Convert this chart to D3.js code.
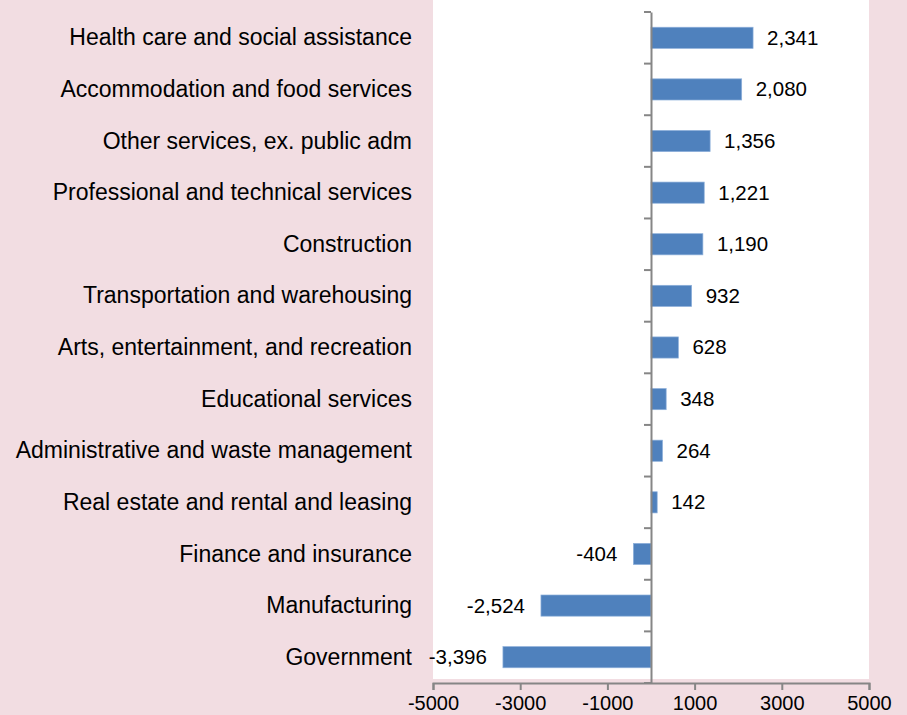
<!DOCTYPE html>
<html>
<head>
<meta charset="utf-8">
<script src="https://cdn.jsdelivr.net/npm/d3@7"></script>
<style>
  body { margin: 0; background: #f2dde2; overflow: hidden; }
  text { font-family: "Liberation Sans", Arial, sans-serif; fill: #000; }
</style>
</head>
<body>
<div id="chart"></div>
<script>
// change in jobs by industry
const categories = ["Health care and social assistance", "Accommodation and food services",
  "Other services, ex. public adm", "Professional and technical services", "Construction",
  "Transportation and warehousing", "Arts, entertainment, and recreation", "Educational services",
  "Administrative and waste management", "Real estate and rental and leasing",
  "Finance and insurance", "Manufacturing", "Government"];
const values = [2341, 2080, 1356, 1221, 1190, 932, 628, 348, 264, 142, -404, -2524, -3396];
const xTicks = [-5000, -3000, -1000, 1000, 3000, 5000];

const width = 907, height = 715,
      margin = ({top: 12, right: 38, bottom: 32, left: 433}); // plot box

const svg = d3.select("#chart")
    .append("svg")
    .attr("width", width)
    .attr("height", height)
    .style("display", "block");

let x = d3.scaleLinear()
    .domain([-5000, 5000])
    .range([margin.left, width - margin.right]);

let y = d3.scaleBand()
    .domain(categories)
    .range([margin.top, height - margin.bottom])
    .paddingInner(0.59)
    .paddingOuter(0.295);

// white plot area
svg.append("rect")
    .attr("x", margin.left)
    .attr("y", 0)
    .attr("width", x(5000) - x(-5000))
    .attr("height", height - margin.bottom - 4)
    .attr("fill", "#fff");

// bars
svg.selectAll(".bar")
    .data(values)
    .join("rect")
    .attr("class", "bar")
    .attr("x", d => x(Math.min(0, d)))
    .attr("y", (d, i) => y(categories[i]))
    .attr("width", d => Math.abs(x(d) - x(0)))
    .attr("height", y.bandwidth())
    .attr("fill", "#4f81bd")
    .attr("stroke", "#8eb0da")
    .attr("stroke-width", 0.7);

// value labels, plain hyphen for minus like the original
const fmt = d3.formatLocale({decimal: ".", thousands: ",", grouping: [3], currency: ["", ""], minus: "-"}).format(",");
svg.selectAll(".val")
    .data(values)
    .join("text")
    .attr("class", "val")
    .attr("x", d => d >= 0 ? x(d) + 14 : x(d) - 16)
    .attr("y", (d, i) => y(categories[i]) + y.bandwidth() / 2)
    .attr("dy", "0.34em")
    .attr("text-anchor", d => d >= 0 ? "start" : "end")
    .style("font-size", "20.5px")
    .text(d => fmt(d));

// x axis at the bottom
const xAxis = g => g
    .attr("transform", `translate(0, ${height - margin.bottom})`)
    .call(d3.axisBottom(x).tickValues(xTicks).tickFormat(d => String(d))
        .tickSize(7).tickSizeOuter(7).tickPadding(6))
    .call(g => g.selectAll("path, line").attr("stroke", "#868686").attr("stroke-width", 2))
    .call(g => g.selectAll("text").style("font-size", "20px").attr("font-family", null));

// y axis on the zero line
const yAxis = g => g
    .attr("transform", `translate(${x(0)}, 0)`)
    .call(d3.axisLeft(y).tickValues([]).tickSize(0).tickSizeOuter(0))
    .call(g => g.selectAll("path").attr("stroke", "#868686").attr("stroke-width", 2));

svg.append("g").call(xAxis);
svg.append("g").call(yAxis);

// category separators on the zero line
const step = y.step();
svg.append("g")
    .selectAll("line")
    .data(d3.range(categories.length + 1))
    .join("line")
    .attr("x1", x(0) - 7)
    .attr("x2", x(0))
    .attr("y1", i => margin.top + i * step)
    .attr("y2", i => margin.top + i * step)
    .attr("stroke", "#868686")
    .attr("stroke-width", 2);

// category labels
svg.selectAll(".cat")
    .data(categories)
    .join("text")
    .attr("class", "cat")
    .attr("x", margin.left - 21)
    .attr("y", d => y(d) + y.bandwidth() / 2)
    .attr("dy", "0.33em")
    .attr("text-anchor", "end")
    .style("font-size", "23px")
    .text(d => d);
</script>
</body>
</html>
